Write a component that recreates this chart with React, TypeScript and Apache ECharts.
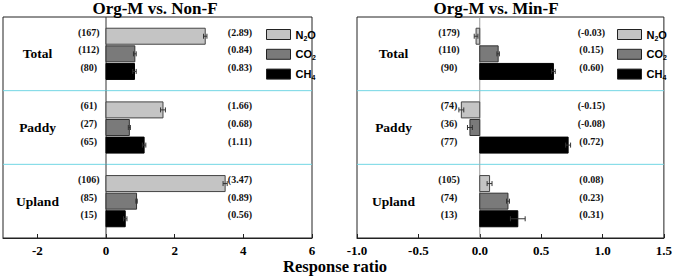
import React, { useEffect, useRef } from "react";
import * as echarts from "echarts";

const groups = ["Total", "Paddy", "Upland"];
const gasNames = ["N2O", "CO2", "CH4"];

// Org-M vs. Non-F
const nonF_N2O = [2.89, 1.66, 3.47];
const nonF_CO2 = [0.84, 0.68, 0.89];
const nonF_CH4 = [0.83, 1.11, 0.56];
const nonF_N2O_err = [0.05, 0.07, 0.06];
const nonF_CO2_err = [0.04, 0.03, 0.02];
const nonF_CH4_err = [0.05, 0.05, 0.05];
const nonF_N2O_n = [167, 61, 106];
const nonF_CO2_n = [112, 27, 85];
const nonF_CH4_n = [80, 65, 15];

// Org-M vs. Min-F
const minF_N2O = [-0.03, -0.15, 0.08];
const minF_CO2 = [0.15, -0.08, 0.23];
const minF_CH4 = [0.6, 0.72, 0.31];
const minF_N2O_err = [0.015, 0.02, 0.02];
const minF_CO2_err = [0.01, 0.02, 0.012];
const minF_CH4_err = [0.015, 0.02, 0.06];
const minF_N2O_n = [179, 74, 105];
const minF_CO2_n = [110, 36, 74];
const minF_CH4_n = [90, 77, 13];

const leftTicks = [-2, 0, 2, 4, 6];
const rightTicks = [-1.0, -0.5, 0, 0.5, 1.0, 1.5];

const gasFill = ["#c4c4c4", "#7a7a7a", "#000000"];
const gasBorder = ["#444", "#333", "#000"];

const SERIF = '"Liberation Serif", "Times New Roman", serif';
const SANS = '"Liberation Sans", Arial, sans-serif';

function makeSeries(
  panel: number,
  gi: number,
  values: number[],
  errs: number[],
  ns: number[],
  countX: number,
  valX: number,
  zeroColor: string
) {
  return {
    type: "custom",
    name: gasNames[gi],
    xAxisIndex: panel,
    yAxisIndex: panel,
    itemStyle: { color: gasFill[gi], borderColor: "#222", borderWidth: 1 },
    encode: { x: 0, y: 1 },
    data: values.map((v, i) => [v, i, errs[i], ns[i]]),
    renderItem: (params: any, api: any) => {
      const v = api.value(0);
      const c = api.value(1);
      const e = api.value(2);
      const n = api.value(3);
      const p0 = api.coord([0, c]);
      const p1 = api.coord([v, c]);
      const bw = api.size([0, 1])[1];
      const cy = p0[1] + (gi - 1) * 17.6;
      const x0 = Math.min(p0[0], p1[0]);
      const w = Math.abs(p1[0] - p0[0]);
      const lo = api.coord([v - e, c])[0];
      const hi = api.coord([v + e, c])[0];
      const cx = api.coord([countX, c])[0];
      const vx = api.coord([valX, c])[0];
      const cs = params.coordSys;
      const children: any[] = [];
      if (gi === 0) {
        children.push({
          type: "line",
          shape: { x1: p0[0], y1: p0[1] - bw / 2, x2: p0[0], y2: p0[1] + bw / 2 },
          style: { stroke: zeroColor, lineWidth: 1 },
        });
        if (c < groups.length - 1) {
          children.push({
            type: "line",
            shape: { x1: cs.x, y1: p0[1] + bw / 2, x2: cs.x + cs.width, y2: p0[1] + bw / 2 },
            style: { stroke: "#72d6e4", lineWidth: 1 },
          });
        }
      }
      children.push({
        type: "rect",
        shape: { x: x0, y: cy - 8, width: w, height: 16 },
        style: { fill: gasFill[gi], stroke: gasBorder[gi], lineWidth: 1 },
      });
      const ec = "#333";
      children.push({ type: "line", shape: { x1: lo, y1: cy, x2: hi, y2: cy }, style: { stroke: ec, lineWidth: 1 } });
      children.push({ type: "line", shape: { x1: lo, y1: cy - 2.5, x2: lo, y2: cy + 2.5 }, style: { stroke: ec, lineWidth: 1 } });
      children.push({ type: "line", shape: { x1: hi, y1: cy - 2.5, x2: hi, y2: cy + 2.5 }, style: { stroke: ec, lineWidth: 1 } });
      children.push({
        type: "text",
        x: cx,
        y: cy - 4,
        style: {
          text: `(${n})`,
          font: `bold 10px ${SERIF}`,
          fill: "#111",
          align: "center",
          verticalAlign: "middle",
        },
      });
      children.push({
        type: "text",
        x: vx,
        y: cy - 4,
        style: {
          text: `(${v.toFixed(2)})`,
          font: `bold 10px ${SERIF}`,
          fill: "#111",
          align: "center",
          verticalAlign: "middle",
        },
      });
      return { type: "group", children };
    },
  };
}

const legendFormatter = (name: string) =>
  name === "N2O" ? "N{s|2}O" : name === "CO2" ? "CO{s|2}" : "CH{s|4}";

function makeLegend(left: number) {
  return {
    orient: "vertical",
    left,
    top: 24,
    itemWidth: 24,
    itemHeight: 10,
    itemGap: 7.3,
    icon: "rect",
    data: gasNames.map((g, i) => ({
      name: g,
      itemStyle: { color: gasFill[i], borderColor: "#222", borderWidth: 1 },
    })),
    formatter: legendFormatter,
    selectedMode: false,
    textStyle: {
      fontFamily: SANS,
      fontWeight: "bold",
      fontSize: 11,
      color: "#000",
      rich: {
        s: { fontFamily: SANS, fontWeight: "bold", fontSize: 7, padding: [7, 0, 0, 0], color: "#000" },
      },
    },
  };
}

const axisLabelStyle = {
  fontFamily: SERIF,
  fontWeight: "bold",
  fontSize: 13,
  color: "#000",
  margin: 6,
};

export default function App() {
  const ref = useRef<HTMLDivElement>(null);
  useEffect(() => {
    if (!ref.current) return;
    const chart = echarts.init(ref.current, undefined, { renderer: "svg" });
    const option: any = {
      animation: false,
      backgroundColor: "#fff",
      grid: [
        { left: 3, right: 675 - 312, top: 17, bottom: 277 - 238, show: true, borderColor: "#222", borderWidth: 1 },
        { left: 357, right: 675 - 665, top: 17, bottom: 277 - 238, show: true, borderColor: "#222", borderWidth: 1 },
      ],
      xAxis: [
        {
          type: "value",
          gridIndex: 0,
          min: -3,
          max: 6,
          splitLine: { show: false },
          axisLine: { show: true, lineStyle: { color: "#222" } },
          axisTick: { show: true, inside: true, length: 4, customValues: leftTicks, lineStyle: { color: "#222" } },
          axisLabel: { ...axisLabelStyle, customValues: leftTicks },
        },
        {
          type: "value",
          gridIndex: 1,
          min: -1,
          max: 1.5,
          interval: 0.5,
          splitLine: { show: false },
          axisLine: { show: true, lineStyle: { color: "#222" } },
          axisTick: { show: true, inside: true, length: 4, customValues: rightTicks, lineStyle: { color: "#222" } },
          axisLabel: {
            ...axisLabelStyle,
            customValues: rightTicks,
            showMinLabel: true,
            showMaxLabel: true,
            formatter: (v: number) => v.toFixed(1),
          },
        },
      ],
      yAxis: [
        {
          type: "category",
          gridIndex: 0,
          data: groups,
          inverse: true,
          axisLine: { show: false },
          axisTick: { show: false },
          splitLine: { show: false },
          axisLabel: {
            inside: true,
            margin: 34.5,
            align: "center",
            fontFamily: SERIF,
            fontWeight: "bold",
            fontSize: 13.5,
            color: "#000",
            padding: [4, 0, 0, 0],
          },
        },
        {
          type: "category",
          gridIndex: 1,
          data: groups,
          inverse: true,
          axisLine: { show: false },
          axisTick: { show: false },
          splitLine: { show: false },
          axisLabel: {
            inside: true,
            margin: 36.5,
            align: "center",
            fontFamily: SERIF,
            fontWeight: "bold",
            fontSize: 13.5,
            color: "#000",
            padding: [4, 0, 0, 0],
          },
        },
      ],
      legend: [makeLegend(261), makeLegend(612)],
      graphic: [
        {
          type: "text",
          x: 155,
          y: 0,
          style: { text: "Org-M vs. Non-F", font: `bold 17px ${SERIF}`, fill: "#000", align: "center", verticalAlign: "top" },
        },
        {
          type: "text",
          x: 496,
          y: 0,
          style: { text: "Org-M vs. Min-F", font: `bold 17px ${SERIF}`, fill: "#000", align: "center", verticalAlign: "top" },
        },
        {
          type: "text",
          x: 335,
          y: 266,
          style: { text: "Response ratio", font: `bold 16.5px ${SERIF}`, fill: "#000", align: "center", verticalAlign: "middle" },
        },
      ],
      series: [
        makeSeries(0, 0, nonF_N2O, nonF_N2O_err, nonF_N2O_n, -0.5, 3.9, "#333"),
        makeSeries(0, 1, nonF_CO2, nonF_CO2_err, nonF_CO2_n, -0.5, 3.9, "#333"),
        makeSeries(0, 2, nonF_CH4, nonF_CH4_err, nonF_CH4_n, -0.5, 3.9, "#333"),
        makeSeries(1, 0, minF_N2O, minF_N2O_err, minF_N2O_n, -0.25, 0.91, "#999"),
        makeSeries(1, 1, minF_CO2, minF_CO2_err, minF_CO2_n, -0.25, 0.91, "#999"),
        makeSeries(1, 2, minF_CH4, minF_CH4_err, minF_CH4_n, -0.25, 0.91, "#999"),
      ],
    };
    chart.setOption(option);
    return () => chart.dispose();
  }, []);
  return (
    <div
      ref={ref}
      style={{ position: "fixed", left: 0, top: 0, width: 675, height: 277, background: "#fff" }}
    />
  );
}
